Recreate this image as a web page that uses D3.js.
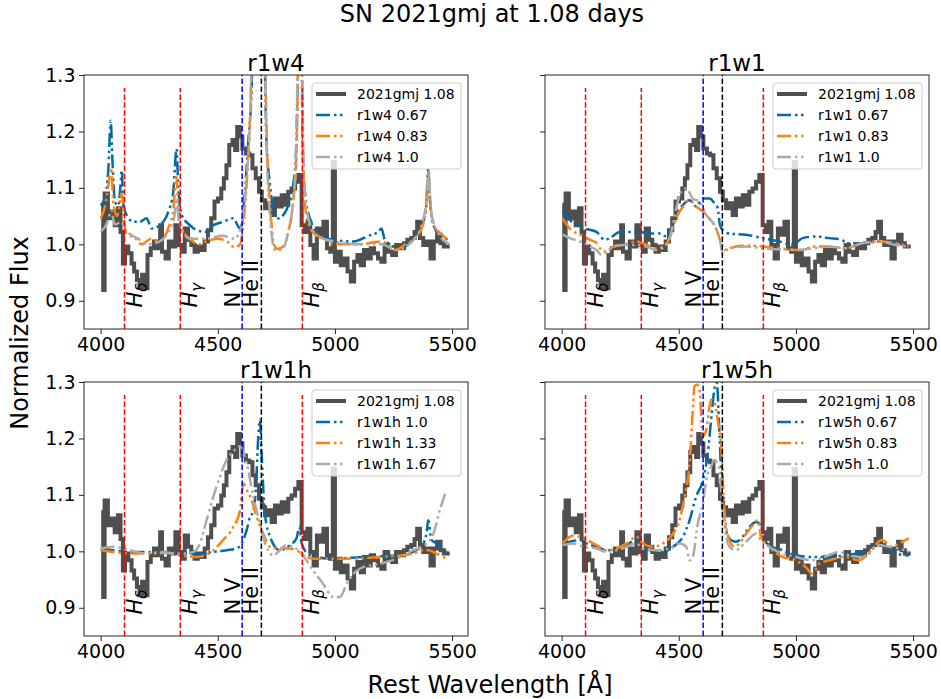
<!DOCTYPE html>
<html>
<head>
<meta charset="utf-8">
<script src="https://cdn.jsdelivr.net/npm/d3@7/dist/d3.min.js"></script>
<style>
  body { margin: 0; background: #fff; }
  text { font-family: "DejaVu Sans", sans-serif; }
</style>
</head>
<body>
<svg id="fig" width="941" height="699"></svg>
<script>
// Observed spectrum of SN 2021gmj at +1.08 d (binned, drawn as steps)
const obsWave = [4003,4011,4017,4031,4045,4060,4074,4085,4095,4104,4118,4132,4143,4155,4166,4177,4189,4200,4214,4228,4242,4254,4262,4277,4291,4305,4319,4333,4347,4359,4373,4387,4401,4415,4430,4444,4458,4472,4486,4501,4515,4526,4537,4549,4563,4574,4583,4594,4605,4620,4634,4648,4662,4676,4688,4702,4716,4730,4744,4759,4773,4787,4801,4815,4830,4844,4858,4872,4883,4895,4909,4923,4937,4951,4966,4980,4991,5000,5011,5025,5039,5054,5068,5082,5096,5110,5124,5139,5153,5167,5184,5198,5212,5227,5244,5261,5278,5295,5309,5326,5340,5351,5363,5377,5391,5408,5422,5436,5451,5465,5490];
const obsFlux = [1.070,0.919,1.090,1.046,1.058,1.034,1.064,1.022,0.966,0.996,0.984,0.966,0.952,0.937,0.922,0.946,0.922,0.981,0.993,1.005,0.993,1.034,0.987,0.975,1.005,0.996,1.034,0.999,0.987,1.028,1.008,0.999,0.987,0.996,0.990,1.005,1.025,1.046,1.076,1.081,1.099,1.117,1.140,1.176,1.185,1.167,1.208,1.191,1.170,1.161,1.158,1.135,1.117,1.093,1.078,1.064,1.073,1.052,1.081,1.067,1.087,1.070,1.093,1.099,1.111,1.123,1.034,1.022,1.040,0.999,0.975,1.028,1.017,1.040,0.993,0.987,1.146,0.969,0.987,0.963,0.975,0.952,0.934,0.969,0.981,0.963,0.990,0.975,0.993,0.984,0.975,0.969,0.999,0.987,0.981,0.999,0.993,1.002,1.008,1.011,1.022,1.040,1.011,0.999,1.005,0.975,1.005,1.017,1.002,0.996,0.996];

// r1w4 models
const r1w4_067_wave = [4000,4018,4033,4043,4050,4061,4075,4085,4090,4097,4111,4139,4168,4196,4218,4253,4289,4310,4324,4331,4346,4381,4410,4445,4481,4523,4566,4595,4616,4630,4644,4655,4668,4680,4695,4708,4723,4737,4758,4780,4801,4822,4836,4846,4855,4862,4872,4893,4936,4993,5078,5149,5185,5199,5213,5277,5334,5377,5390,5398,5405,5420,5448,5490];
const r1w4_067_flux = [1.069,1.081,1.134,1.219,1.152,1.075,1.069,1.105,1.131,1.069,1.052,1.040,1.040,1.046,1.028,1.034,1.058,1.093,1.169,1.105,1.052,1.034,1.025,1.022,1.034,1.040,1.046,1.028,1.093,1.181,1.270,1.45,1.40,1.45,1.42,1.181,1.105,1.064,1.046,1.052,1.069,1.105,1.181,1.40,1.45,1.18,1.093,1.046,1.016,1.008,1.005,1.016,1.022,1.028,1.008,0.993,1.011,1.040,1.07,1.134,1.081,1.034,1.016,1.008];
const r1w4_083_wave = [4000,4020,4035,4045,4055,4070,4090,4100,4110,4150,4175,4195,4215,4250,4290,4310,4323,4332,4345,4380,4420,4450,4500,4540,4570,4595,4610,4625,4640,4652,4668,4680,4695,4712,4725,4740,4755,4775,4800,4820,4835,4845,4855,4865,4875,4900,4950,5000,5100,5200,5260,5300,5340,5380,5392,5400,5408,5425,5450,5490];
const r1w4_083_flux = [1.046,1.07,1.11,1.135,1.07,1.05,1.09,1.04,1.02,1.01,1.0,1.005,1.01,1.005,1.03,1.06,1.12,1.06,1.03,1.01,1.0,1.005,1.01,1.005,0.995,1.0,1.04,1.12,1.25,1.45,1.40,1.45,1.42,1.15,1.06,1.0,0.992,0.995,1.02,1.07,1.15,1.38,1.45,1.15,1.06,1.025,1.01,1.0,1.0,1.005,0.99,1.0,1.01,1.04,1.08,1.125,1.07,1.03,1.02,1.005];
const r1w4_100_wave = [4000,4030,4045,4060,4090,4100,4120,4160,4200,4250,4300,4315,4323,4335,4380,4450,4520,4570,4600,4620,4640,4652,4668,4680,4695,4710,4725,4745,4770,4800,4830,4845,4855,4865,4880,4920,5000,5100,5200,5260,5340,5385,5400,5410,5440,5490];
const r1w4_100_flux = [1.022,1.04,1.06,1.035,1.04,1.03,1.02,1.01,1.0,1.005,1.03,1.05,1.08,1.04,1.01,1.01,1.015,1.01,1.03,1.10,1.25,1.45,1.40,1.45,1.42,1.15,1.04,0.99,0.99,1.02,1.12,1.38,1.45,1.15,1.06,1.015,1.005,1.0,1.0,0.99,1.01,1.06,1.13,1.06,1.02,1.0];

// r1w1 models
const r1w1_067_wave = [4004,4028,4064,4099,4149,4184,4206,4248,4291,4333,4376,4418,4447,4468,4489,4518,4546,4574,4603,4631,4652,4666,4676,4688,4716,4787,4858,4929,4986,5028,5085,5141,5198,5212,5283,5354,5425,5482];
const r1w1_067_flux = [1.058,1.046,1.034,1.028,1.022,1.008,1.011,1.022,1.022,1.022,1.019,1.019,1.014,1.028,1.052,1.070,1.078,1.067,1.081,1.081,1.073,1.064,1.034,1.025,1.019,1.017,1.011,1.005,0.999,1.011,1.014,1.011,1.008,1.002,1.002,1.005,1.002,0.996];
const r1w1_083_wave = [4004,4035,4078,4121,4149,4170,4191,4220,4262,4319,4362,4397,4432,4461,4489,4518,4546,4574,4603,4631,4659,4681,4695,4716,4787,4858,4929,5000,5028,5071,5141,5212,5283,5354,5425,5482];
const r1w1_083_flux = [1.046,1.028,1.017,1.008,1.002,0.990,0.987,0.996,0.999,1.005,0.999,0.993,0.996,1.011,1.046,1.067,1.078,1.067,1.058,1.046,1.028,1.002,0.990,0.993,0.998,0.996,0.993,0.990,0.990,0.996,0.996,0.993,1.002,1.005,1.002,0.996];
const r1w1_100_wave = [4004,4035,4078,4121,4149,4170,4191,4220,4262,4319,4362,4404,4447,4468,4489,4510,4532,4560,4589,4617,4652,4674,4688,4716,4787,4858,5000,5071,5141,5212,5283,5354,5425,5482];
const r1w1_100_flux = [1.017,1.011,1.005,0.996,0.990,0.981,0.987,0.996,0.999,0.999,0.996,0.990,0.999,1.022,1.064,1.093,1.099,1.081,1.076,1.052,1.034,1.011,0.984,0.993,0.996,0.993,0.990,0.993,0.996,0.993,1.002,1.005,0.999,0.996];

// r1w1h models
const r1w1h_100_wave = [4000,4054,4125,4196,4267,4339,4410,4481,4538,4580,4602,4623,4637,4652,4663,4673,4680,4687,4701,4723,4765,4808,4836,4848,4858,4893,4979,5121,5263,5334,5377,5392,5398,5412,5434,5476];
const r1w1h_100_flux = [1.005,1.002,0.999,0.999,0.999,0.997,0.996,0.999,1.002,1.005,1.014,1.037,1.061,1.070,1.115,1.204,1.233,1.174,1.067,1.026,1.002,1.011,1.023,1.043,1.014,0.993,0.987,0.990,0.993,0.999,1.014,1.035,1.055,1.020,1.014,0.999];
const r1w1h_133_wave = [4000,4054,4125,4196,4267,4339,4410,4481,4523,4566,4595,4609,4623,4644,4666,4694,4723,4765,4808,4836,4865,4908,5050,5192,5334,5377,5398,5434,5476];
const r1w1h_133_flux = [1.002,0.999,0.996,0.997,0.999,0.993,0.990,1.002,1.020,1.043,1.073,1.120,1.109,1.091,1.061,1.031,1.008,1.005,1.005,1.002,0.993,0.987,0.987,0.990,0.996,1.002,1.002,0.996,0.987];
const r1w1h_167_wave = [4000,4054,4125,4196,4267,4339,4395,4424,4452,4481,4509,4538,4566,4595,4623,4652,4680,4708,4737,4765,4794,4822,4851,4879,4908,4950,4993,5021,5050,5078,5121,5192,5263,5334,5391,5420,5448,5476];
const r1w1h_167_flux = [1.005,1.008,1.002,0.996,0.997,0.996,0.999,1.014,1.055,1.097,1.132,1.162,1.177,1.186,1.156,1.097,1.049,1.008,0.993,1.002,1.011,1.008,0.999,0.984,0.966,0.942,0.919,0.919,0.942,0.960,0.972,0.978,0.987,1.002,1.014,1.031,1.073,1.109];

// r1w5h models
const r1w5h_067_wave = [4004,4035,4078,4106,4149,4191,4234,4277,4319,4347,4376,4432,4475,4518,4546,4574,4603,4624,4638,4652,4662,4674,4685,4702,4723,4744,4773,4801,4830,4844,4858,4886,4943,5000,5071,5141,5212,5283,5354,5397,5425,5482];
const r1w5h_067_flux = [1.014,1.017,1.020,1.014,1.008,1.002,1.002,1.011,1.020,1.005,1.002,0.999,1.008,1.026,1.055,1.097,1.126,1.174,1.233,1.287,1.299,1.204,1.097,1.037,1.020,1.017,1.026,1.043,1.052,1.049,1.026,1.011,1.002,0.993,0.990,0.990,0.993,0.999,1.014,1.005,0.996,0.993];
const r1w5h_083_wave = [4004,4050,4092,4149,4191,4234,4277,4319,4347,4390,4432,4475,4503,4525,4546,4560,4567,4580,4588,4603,4617,4638,4652,4666,4681,4695,4716,4737,4759,4787,4815,4837,4851,4886,4943,5000,5042,5071,5099,5141,5212,5269,5310,5368,5410,5440,5482];
const r1w5h_083_flux = [1.014,1.028,1.023,1.011,1.002,1.005,1.014,1.026,1.014,1.008,1.014,1.031,1.055,1.097,1.156,1.251,1.293,1.295,1.287,1.204,1.215,1.269,1.264,1.233,1.186,1.073,1.020,1.008,1.014,1.031,1.046,1.055,1.026,1.008,0.990,0.984,0.972,0.960,0.978,0.984,0.990,0.984,0.996,1.020,1.008,1.014,1.023];
const r1w5h_100_wave = [4004,4050,4092,4149,4191,4234,4277,4319,4347,4404,4461,4503,4532,4546,4560,4581,4603,4617,4638,4652,4671,4685,4702,4723,4744,4787,4830,4851,4886,4943,5000,5071,5141,5184,5226,5283,5354,5397,5440,5482];
const r1w5h_100_flux = [1.011,1.014,1.008,1.005,0.999,1.002,1.008,1.014,1.005,1.002,1.005,1.014,1.008,0.984,0.990,1.049,1.085,1.126,1.150,1.162,1.150,1.085,1.026,1.005,1.002,1.017,1.031,1.020,1.008,0.996,0.990,0.984,0.993,0.999,0.993,0.990,1.011,1.008,1.005,0.999];

// Panel names and legend labels
const panelNames = ["r1w4", "r1w1", "r1w1h", "r1w5h"];
const obsLabel = "2021gmj 1.08";
const modelLabels = [
  ["r1w4 0.67", "r1w4 0.83", "r1w4 1.0"],
  ["r1w1 0.67", "r1w1 0.83", "r1w1 1.0"],
  ["r1w1h 1.0", "r1w1h 1.33", "r1w1h 1.67"],
  ["r1w5h 0.67", "r1w5h 0.83", "r1w5h 1.0"]
];
const modelWaves = [
  [r1w4_067_wave, r1w4_083_wave, r1w4_100_wave],
  [r1w1_067_wave, r1w1_083_wave, r1w1_100_wave],
  [r1w1h_100_wave, r1w1h_133_wave, r1w1h_167_wave],
  [r1w5h_067_wave, r1w5h_083_wave, r1w5h_100_wave]
];
const modelFluxes = [
  [r1w4_067_flux, r1w4_083_flux, r1w4_100_flux],
  [r1w1_067_flux, r1w1_083_flux, r1w1_100_flux],
  [r1w1h_100_flux, r1w1h_133_flux, r1w1h_167_flux],
  [r1w5h_067_flux, r1w5h_083_flux, r1w5h_100_flux]
];

// Line identifications
const lineWaves = [4102, 4340, 4604, 4686, 4861];
const lineNames = ["Hδ", "Hγ", "N V", "He II", "Hβ"];

// Axis ticks
const xTicks = [4000, 4500, 5000, 5500];
const yTicks = [0.9, 1.0, 1.1, 1.2, 1.3];

// ---- drawing ----
const modelColors = ["#006BA4", "#FF800E", "#ABABAB"];
const obsColor = "#4f4f4f";
const modelDash = "14,4,2.5,3.5,2.5,3.5";
const lineColors = ["#ff0000", "#ff0000", "#0000ff", "#000000", "#ff0000"];

const svg = d3.select("#fig");
const pw = 384, ph = 254;
const origins = [[84, 75], [545, 75], [84, 382], [545, 382]];

const x = d3.scaleLinear().domain([3929, 5568]).range([0, pw]);
const y = d3.scaleLinear().domain([0.85, 1.3]).range([ph, 0]);

const obsPts = d3.zip(obsWave, obsFlux);

panelNames.forEach((name, i) => {
  const [ox, oy] = origins[i];
  const g = svg.append("g").attr("transform", `translate(${ox},${oy})`);

  const clipId = "clip" + i;
  g.append("clipPath").attr("id", clipId)
    .append("rect").attr("width", pw).attr("height", ph);
  const plot = g.append("g").attr("clip-path", `url(#${clipId})`);

  // observed spectrum
  plot.append("path")
    .datum(obsPts)
    .attr("fill", "none")
    .attr("stroke", obsColor)
    .attr("stroke-width", 4)
    .attr("d", d3.line().x(d => x(d[0])).y(d => y(d[1])).curve(d3.curveStepAfter));

  // models
  modelWaves[i].forEach((wv, k) => {
    plot.append("path")
      .datum(d3.zip(wv, modelFluxes[i][k]))
      .attr("fill", "none")
      .attr("stroke", modelColors[k])
      .attr("stroke-width", 2.5)
      .attr("stroke-dasharray", modelDash)
      .attr("d", d3.line().x(d => x(d[0])).y(d => y(d[1])).curve(d3.curveMonotoneX));
  });

  // line markers
  lineWaves.forEach((lw, k) => {
    const isH = lineNames[k].startsWith("H") && lineNames[k].length === 2;
    plot.append("line")
      .attr("x1", x(lw)).attr("x2", x(lw))
      .attr("y1", y(0.85)).attr("y2", isH ? y(1.277) : 0)
      .attr("stroke", lineColors[k])
      .attr("stroke-width", 1.5)
      .attr("stroke-dasharray", "5.5,2.4");
  });

  // line labels (rotated)
  lineWaves.forEach((lw, k) => {
    const nm = lineNames[k];
    const isH = nm.startsWith("H") && nm.length === 2;
    const tx = isH ? x(lw) + 17 : (nm === "N V" ? x(lw) - 2 : x(lw) - 3);
    const t = g.append("text")
      .attr("transform", `translate(${tx},${y(0.888)}) rotate(-90)`)
      .attr("font-size", 21)
      .attr("fill", "#000");
    if (isH) {
      t.append("tspan").attr("font-style", "italic").text("H");
      t.append("tspan").attr("font-style", "italic").attr("font-size", 15).attr("dy", 5).text(nm[1]);
    } else {
      t.text(nm);
    }
  });

  // axes
  const xa = g.append("g").attr("transform", `translate(0,${ph})`)
    .call(d3.axisBottom(x).tickValues(xTicks).tickSize(5).tickPadding(3.5).tickFormat(d3.format("d")));
  const ya = g.append("g")
    .call(d3.axisLeft(y).tickValues(yTicks).tickSize(5).tickPadding(3.5)
      .tickFormat(i % 2 === 0 ? d3.format(".1f") : () => ""));
  [xa, ya].forEach(a => {
    a.select(".domain").remove();
    a.selectAll("line").attr("stroke", "#262626").attr("stroke-width", 1);
    a.selectAll("text").attr("font-size", 19).attr("fill", "#000")
      .attr("font-family", "DejaVu Sans, sans-serif");
  });

  // frame
  g.append("rect").attr("width", pw).attr("height", ph)
    .attr("fill", "none").attr("stroke", "#262626").attr("stroke-width", 1);

  // title
  g.append("text").attr("x", pw / 2).attr("y", -4.5)
    .attr("text-anchor", "middle").attr("font-size", 23).text(name);

  // legend
  const lgW = 149, lgH = 86;
  const lx = pw - 7 - lgW, ly = 8;
  const lg = g.append("g").attr("transform", `translate(${lx},${ly})`);
  lg.append("rect").attr("width", lgW).attr("height", lgH).attr("rx", 3)
    .attr("fill", "#fff").attr("fill-opacity", 0.8)
    .attr("stroke", "#cccccc").attr("stroke-width", 1);
  const entries = [{ label: obsLabel, color: obsColor, w: 4, dash: null }]
    .concat(modelLabels[i].map((lb, k) => ({ label: lb, color: modelColors[k], w: 2.5, dash: modelDash })));
  entries.forEach((e, k) => {
    const ry = 11 + k * 21;
    lg.append("line").attr("x1", 4).attr("x2", 34).attr("y1", ry).attr("y2", ry)
      .attr("stroke", e.color).attr("stroke-width", e.w)
      .attr("stroke-dasharray", e.dash);
    lg.append("text").attr("x", 45).attr("y", ry).attr("dy", "0.35em")
      .attr("font-size", 14).text(e.label);
  });
});

// figure-level labels
svg.append("text").attr("x", 492).attr("y", 22).attr("text-anchor", "middle")
  .attr("font-size", 24).text("SN 2021gmj at 1.08 days");
svg.append("text").attr("x", 490).attr("y", 693).attr("text-anchor", "middle")
  .attr("font-size", 24).text("Rest Wavelength [Å]");
svg.append("text").attr("transform", "translate(28,333) rotate(-90)")
  .attr("text-anchor", "middle").attr("font-size", 24).text("Normalized Flux");
</script>
</body>
</html>
